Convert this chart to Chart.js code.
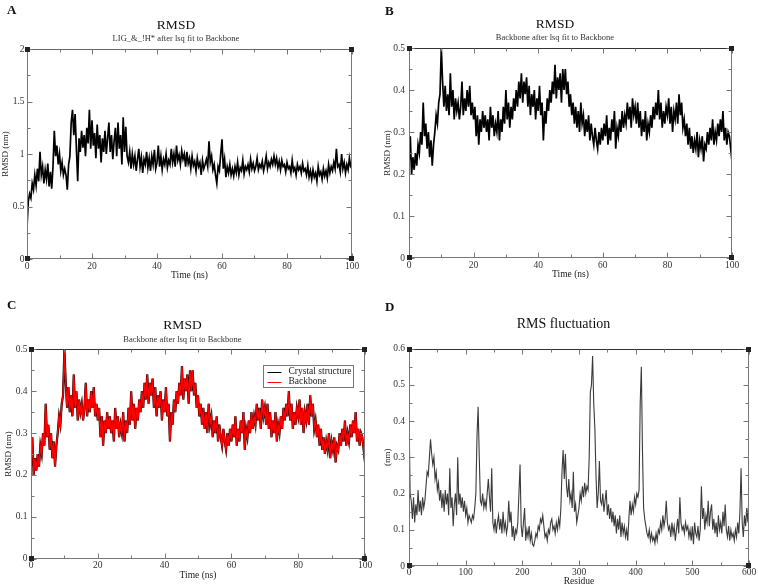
<!DOCTYPE html>
<html>
<head>
<meta charset="utf-8">
<script src="https://cdn.jsdelivr.net/npm/chart.js@4/dist/chart.umd.min.js"></script>
<style>
  html, body { margin: 0; padding: 0; background: #ffffff; }
  #wrap { position: relative; width: 758px; height: 587px; overflow: hidden; background: #fff; }
  canvas { position: absolute; }
  .lbl { position: absolute; font-family: 'Liberation Serif', 'Times New Roman', serif; font-weight: bold; font-size: 13px; color: #111; line-height: 1; }
</style>
</head>
<body>
<div id="wrap">
  <canvas id="cA" width="378" height="290" style="left:0;top:0"></canvas>
  <canvas id="cB" width="380" height="290" style="left:378px;top:0"></canvas>
  <canvas id="cC" width="378" height="297" style="left:0;top:290px"></canvas>
  <canvas id="cD" width="380" height="297" style="left:378px;top:290px"></canvas>
  <div class="lbl" style="left:7px;top:3px">A</div>
  <div class="lbl" style="left:385px;top:4px">B</div>
  <div class="lbl" style="left:7px;top:298px">C</div>
  <div class="lbl" style="left:385px;top:300px">D</div>
</div>
<script>
// ---------------- DATA ----------------
// Time axis step (ns) for RMSD traces, residue step for RMSF
const timeStepNs = 0.4;
const residueStep = 2;

// Panel A: ligand RMSD (nm), t = 0 .. 100 ns
const ligandRmsd = [
  0.30, 0.55, 0.62, 0.58, 0.72, 0.66, 0.80, 0.70, 0.86, 0.74,
  1.02, 0.80, 0.88, 0.72, 0.85, 0.76, 0.91, 0.69, 0.83, 0.67,
  0.88, 1.22, 0.98, 1.08, 0.90, 1.00, 0.84, 0.92, 0.80, 0.86,
  0.80, 0.66, 0.90, 0.98, 1.30, 1.42, 1.18, 1.38, 1.05, 0.74,
  1.15, 1.02, 1.22, 1.06, 1.18, 0.98, 1.25, 1.10, 1.42, 1.05,
  1.32, 1.08, 1.20, 0.96, 1.28, 1.05, 1.18, 0.92, 1.15, 1.02,
  1.22, 1.00, 1.15, 1.30, 1.02, 1.18, 0.95, 1.12, 1.25, 0.98,
  1.30, 1.05, 1.18, 0.90, 1.35, 1.02, 1.26, 0.98, 0.92, 1.02,
  0.86, 1.00, 0.90, 0.98, 0.84, 0.95, 1.05, 0.88, 0.97, 0.82,
  0.95, 0.90, 1.02, 0.87, 0.96, 0.84, 0.98, 0.90, 1.04, 0.86,
  0.92, 1.08, 0.88, 0.98, 0.85, 0.95, 0.90, 1.00, 0.87, 0.94,
  0.90, 1.05, 0.92, 1.00, 0.88, 1.08, 0.94, 0.99, 0.90, 1.03,
  0.95, 1.00, 0.88, 1.02, 0.91, 0.96, 0.86, 0.98, 0.89, 0.93,
  0.84, 0.96, 0.88, 0.92, 0.80, 0.94, 0.86, 0.90, 0.95, 0.88,
  1.12, 0.92, 0.98, 0.85, 0.90, 0.80, 0.72, 0.88, 0.84, 1.00,
  1.14, 0.86, 0.95, 0.78, 0.88, 0.82, 0.90, 0.80, 0.86, 0.79,
  0.88, 0.82, 0.92, 0.80, 0.87, 0.84, 0.94, 0.81, 0.88, 0.85,
  0.90, 0.83, 0.95, 0.86, 0.91, 0.84, 0.88, 0.96, 0.85, 0.90,
  0.87, 0.93, 0.84, 0.90, 0.98, 0.86, 0.92, 0.88, 0.95, 0.90,
  0.98, 0.90, 0.96, 0.87, 0.93, 0.85, 0.94, 0.88, 0.90, 0.83,
  0.92, 0.86, 0.88, 0.82, 0.94, 0.84, 0.87, 0.80, 0.90, 0.85,
  0.88, 0.82, 0.91, 0.84, 0.86, 0.80, 0.89, 0.78, 0.84, 0.76,
  0.85, 0.78, 0.82, 0.74, 0.88, 0.80, 0.83, 0.76, 0.86, 0.79,
  0.84, 0.77, 0.90, 0.82, 0.88, 0.84, 0.92, 0.86, 1.05, 0.88,
  0.90, 0.83, 1.00, 0.86, 0.92, 0.82, 0.90, 0.85, 0.96, 0.88,
  0.86
];

// Panels B and C: backbone RMSD (nm), t = 0 .. 100 ns
const backboneRmsd = [
  0.22, 0.29, 0.20, 0.24, 0.21, 0.25, 0.22, 0.27, 0.25, 0.30,
  0.27, 0.37, 0.29, 0.32, 0.26, 0.30, 0.24, 0.28, 0.22, 0.27,
  0.30, 0.34, 0.32, 0.37, 0.39, 0.50, 0.42, 0.36, 0.41, 0.35,
  0.39, 0.34, 0.44, 0.36, 0.40, 0.33, 0.38, 0.35, 0.37, 0.33,
  0.36, 0.42, 0.34, 0.38, 0.35, 0.40, 0.36, 0.41, 0.34, 0.37,
  0.33, 0.36, 0.29, 0.34, 0.27, 0.33, 0.30, 0.35, 0.31, 0.34,
  0.30, 0.33, 0.28, 0.36, 0.31, 0.34, 0.29, 0.32, 0.30, 0.35,
  0.28, 0.33, 0.30, 0.36, 0.32, 0.40, 0.33, 0.37, 0.31, 0.36,
  0.33, 0.38, 0.35, 0.40, 0.36, 0.42, 0.38, 0.44, 0.37, 0.42,
  0.39, 0.43, 0.36, 0.41, 0.34, 0.39, 0.36, 0.40, 0.33, 0.38,
  0.35, 0.41, 0.34, 0.37, 0.28, 0.35, 0.32, 0.38, 0.35, 0.40,
  0.37, 0.42, 0.39, 0.46, 0.38, 0.43, 0.40, 0.44, 0.37, 0.45,
  0.40, 0.45, 0.39, 0.42, 0.36, 0.39, 0.34, 0.37, 0.32, 0.36,
  0.31, 0.35, 0.30, 0.37, 0.32, 0.34, 0.29, 0.33, 0.30, 0.34,
  0.28, 0.32, 0.29, 0.27, 0.31, 0.28, 0.26, 0.30, 0.27, 0.31,
  0.28, 0.32, 0.29, 0.34, 0.27, 0.31, 0.28, 0.33, 0.30, 0.35,
  0.26, 0.31, 0.29, 0.33, 0.30, 0.35, 0.31, 0.34, 0.32, 0.37,
  0.33, 0.36, 0.31, 0.38, 0.34, 0.36, 0.32, 0.37, 0.31, 0.35,
  0.29, 0.33, 0.30, 0.35, 0.28, 0.32, 0.30, 0.34, 0.31, 0.36,
  0.33, 0.37, 0.34, 0.40, 0.33, 0.37, 0.31, 0.35, 0.32, 0.36,
  0.34, 0.38, 0.32, 0.36, 0.30, 0.35, 0.33, 0.37, 0.32, 0.39,
  0.34, 0.37, 0.31, 0.33, 0.29, 0.32, 0.27, 0.31, 0.26, 0.29,
  0.25, 0.28, 0.26, 0.30, 0.24, 0.28, 0.26, 0.29, 0.23, 0.27,
  0.26, 0.30, 0.27, 0.31, 0.28, 0.33, 0.27, 0.30, 0.28, 0.32,
  0.29, 0.33, 0.30, 0.35, 0.28, 0.31, 0.27, 0.30, 0.29, 0.26,
  0.23
];

// Panel C: crystal structure trace (lies under the backbone trace)
const crystalRmsd = backboneRmsd;

// Panel D: RMS fluctuation (nm), residues 0 .. 600
const rmsfNm = [
  0.43, 0.20, 0.18, 0.13, 0.19, 0.12, 0.17, 0.14, 0.21, 0.15,
  0.18, 0.14, 0.19, 0.16, 0.18, 0.22, 0.26, 0.25, 0.30, 0.35,
  0.31, 0.28, 0.30, 0.24, 0.26, 0.21, 0.23, 0.18, 0.21, 0.16,
  0.20, 0.15, 0.21, 0.17, 0.20, 0.14, 0.27, 0.16, 0.19, 0.11,
  0.17, 0.20, 0.14, 0.30, 0.17, 0.20, 0.16, 0.19, 0.15, 0.18,
  0.14, 0.16, 0.12, 0.14, 0.13, 0.12, 0.14, 0.13, 0.16, 0.20,
  0.36, 0.44, 0.30, 0.18, 0.17, 0.20, 0.16, 0.18, 0.16, 0.20,
  0.24, 0.19, 0.15, 0.27, 0.12, 0.10, 0.13, 0.09, 0.12, 0.14,
  0.10, 0.13, 0.09, 0.15, 0.10, 0.12, 0.09, 0.11, 0.18, 0.12,
  0.15, 0.08, 0.11, 0.07, 0.10, 0.09, 0.12, 0.20, 0.28, 0.11,
  0.08, 0.12, 0.16, 0.07, 0.10, 0.08, 0.11, 0.07, 0.09, 0.06,
  0.055, 0.07, 0.09, 0.08, 0.11, 0.10, 0.13, 0.12, 0.14, 0.11,
  0.08, 0.09, 0.07, 0.10, 0.09, 0.12, 0.13, 0.10, 0.11, 0.09,
  0.12, 0.10, 0.13, 0.11, 0.16, 0.26, 0.32, 0.24, 0.31, 0.22,
  0.19, 0.24, 0.18, 0.20, 0.16, 0.26, 0.15, 0.17, 0.12, 0.14,
  0.16, 0.20, 0.18, 0.22, 0.19, 0.23, 0.20, 0.22, 0.21, 0.30,
  0.48, 0.50, 0.58, 0.45, 0.38, 0.25, 0.16, 0.20, 0.29, 0.18,
  0.17, 0.20, 0.15, 0.18, 0.21, 0.14, 0.17, 0.13, 0.16, 0.12,
  0.15, 0.11, 0.14, 0.09, 0.13, 0.10, 0.14, 0.08, 0.12, 0.09,
  0.11, 0.08, 0.10, 0.07, 0.13, 0.18, 0.14, 0.17, 0.15, 0.19,
  0.17, 0.20, 0.19, 0.21, 0.45, 0.55, 0.32, 0.16, 0.13, 0.11,
  0.09, 0.08, 0.10, 0.07, 0.09, 0.07, 0.08, 0.063, 0.09, 0.07,
  0.10, 0.09, 0.12, 0.10, 0.14, 0.11, 0.13, 0.18, 0.12, 0.10,
  0.11, 0.08, 0.12, 0.09, 0.11, 0.07, 0.10, 0.13, 0.09, 0.19,
  0.12, 0.10, 0.11, 0.09, 0.12, 0.10, 0.11, 0.08, 0.10, 0.07,
  0.11, 0.06, 0.12, 0.09, 0.08, 0.11, 0.07, 0.10, 0.22, 0.13,
  0.16, 0.10, 0.14, 0.12, 0.18, 0.11, 0.15, 0.17, 0.10, 0.13,
  0.09, 0.12, 0.08, 0.14, 0.10, 0.12, 0.09, 0.15, 0.11, 0.17,
  0.10, 0.08, 0.11, 0.07, 0.10, 0.08, 0.09, 0.07, 0.10, 0.08,
  0.12, 0.09, 0.15, 0.27, 0.12, 0.08, 0.14, 0.11, 0.16, 0.12,
  0.20
];

// Tick values and labels
const timeTicks = [0, 20, 40, 60, 80, 100];
const timeTickLabels = ['0', '20', '40', '60', '80', '100'];
const ligandTicks = [0, 0.5, 1, 1.5, 2];
const ligandTickLabels = ['0', '0.5', '1', '1.5', '2'];
const backboneTicks = [0, 0.1, 0.2, 0.3, 0.4, 0.5];
const backboneTickLabels = ['0', '0.1', '0.2', '0.3', '0.4', '0.5'];
const residueTicks = [0, 100, 200, 300, 400, 500, 600];
const residueTickLabels = ['0', '100', '200', '300', '400', '500', '600'];
const rmsfTicks = [0, 0.1, 0.2, 0.3, 0.4, 0.5, 0.6];
const rmsfTickLabels = ['0', '0.1', '0.2', '0.3', '0.4', '0.5', '0.6'];

// Texts
const legendLabels = ['Crystal structure', 'Backbone'];

// ---------------- RENDERING ----------------
const FONT = "'Liberation Serif', 'Times New Roman', serif";

function toXY(values, step) {
  return values.map((v, i) => ({ x: +(i * step).toFixed(2), y: v }));
}

const graceFrame = {
  id: 'graceFrame',
  afterDatasetsDraw(chart, args, opts) {
    const { ctx, chartArea, scales } = chart;
    const L = Math.round(chartArea.left) + 0.5, R = Math.round(chartArea.right) - 0.5;
    const T = Math.round(chartArea.top) + 0.5, B = Math.round(chartArea.bottom) - 0.5;
    ctx.save();
    ctx.lineWidth = 1;
    ctx.strokeStyle = opts.frameColor || '#666';
    ctx.beginPath();
    ctx.moveTo(L, T); ctx.lineTo(L, B); ctx.lineTo(R, B); ctx.lineTo(R, T);
    ctx.stroke();
    ctx.strokeStyle = opts.topColor || '#666';
    ctx.beginPath(); ctx.moveTo(L, T); ctx.lineTo(R, T); ctx.stroke();

    ctx.strokeStyle = opts.tickColor || '#777';
    const major = 5, minor = 3;
    const xs = scales.x, ys = scales.y;
    const xv = xs.ticks.map(t => t.value), yv = ys.ticks.map(t => t.value);
    ctx.beginPath();
    xv.forEach((v, i) => {
      const p = Math.round(xs.getPixelForValue(v)) + 0.5;
      ctx.moveTo(p, B); ctx.lineTo(p, B - major);
      ctx.moveTo(p, T); ctx.lineTo(p, T + major);
      if (i < xv.length - 1) {
        const m = Math.round(xs.getPixelForValue((v + xv[i + 1]) / 2)) + 0.5;
        ctx.moveTo(m, B); ctx.lineTo(m, B - minor);
        ctx.moveTo(m, T); ctx.lineTo(m, T + minor);
      }
    });
    yv.forEach((v, i) => {
      const p = Math.round(ys.getPixelForValue(v)) + 0.5;
      ctx.moveTo(L, p); ctx.lineTo(L + major, p);
      ctx.moveTo(R, p); ctx.lineTo(R - major, p);
      if (i < yv.length - 1) {
        const m = Math.round(ys.getPixelForValue((v + yv[i + 1]) / 2)) + 0.5;
        ctx.moveTo(L, m); ctx.lineTo(L + minor, m);
        ctx.moveTo(R, m); ctx.lineTo(R - minor, m);
      }
    });
    ctx.stroke();

    ctx.fillStyle = '#222';
    [[L, T], [R, T], [L, B], [R, B]].forEach(([x, y]) => ctx.fillRect(x - 2.5, y - 2.5, 5, 5));
    ctx.restore();
  }
};

const boxLegend = {
  id: 'boxLegend',
  afterDraw(chart, args, opts) {
    if (!opts || !opts.show) return;
    const { ctx, chartArea } = chart;
    const x0 = Math.round(chartArea.right - opts.fromRight) + 0.5;
    const y0 = Math.round(chartArea.top + opts.fromTop) + 0.5;
    ctx.save();
    ctx.fillStyle = '#fff';
    ctx.fillRect(x0, y0, opts.width, opts.height);
    ctx.strokeStyle = '#777';
    ctx.lineWidth = 1;
    ctx.strokeRect(x0, y0, opts.width, opts.height);
    ctx.font = '9.5px ' + FONT;
    ctx.textBaseline = 'middle';
    chart.data.datasets.forEach((ds, i) => {
      const cy = y0 + 6 + i * 10;
      ctx.strokeStyle = ds.borderColor;
      ctx.lineWidth = 1;
      ctx.beginPath(); ctx.moveTo(x0 + 4, Math.round(cy) + 0.5); ctx.lineTo(x0 + 18, Math.round(cy) + 0.5); ctx.stroke();
      ctx.fillStyle = '#222';
      ctx.fillText(ds.label, x0 + 25, cy);
    });
    ctx.restore();
  }
};

function makePanel(id, p) {
  const ctx = document.getElementById(id);
  return new Chart(ctx, {
    type: 'line',
    data: { datasets: p.datasets },
    plugins: [graceFrame, boxLegend],
    options: {
      responsive: false,
      animation: false,
      devicePixelRatio: 1,
      layout: { padding: { left: 0, right: p.padRight, top: 0, bottom: 0 } },
      elements: { point: { radius: 0 }, line: { tension: 0, borderJoinStyle: 'miter' } },
      plugins: {
        legend: { display: false },
        tooltip: { enabled: false },
        title: {
          display: true, text: p.title, color: '#111',
          font: { family: FONT, size: p.titleSize, weight: 'normal', lineHeight: 1.2 },
          padding: { top: p.titlePadTop, bottom: p.titlePadBottom }
        },
        subtitle: {
          display: !!p.subtitle, text: p.subtitle || '', color: '#333',
          font: { family: FONT, size: 8.5, weight: 'normal', lineHeight: 1.2 },
          padding: { top: p.subPadTop || 0, bottom: p.subPadBottom || 0 }
        },
        graceFrame: { topColor: p.topColor, frameColor: '#777' },
        boxLegend: p.legend || { show: false }
      },
      scales: {
        x: {
          type: 'linear', min: p.xTicks[0], max: p.xTicks[p.xTicks.length - 1],
          grid: { display: false, drawTicks: false }, border: { display: false },
          afterBuildTicks: s => { s.ticks = p.xTicks.map(v => ({ value: v })); },
          afterFit: s => { s.height = p.xHeight; },
          ticks: {
            autoSkip: false, maxRotation: 0, padding: p.xTickPad, color: '#333',
            font: { family: FONT, size: 9.5 },
            callback: (v, i) => p.xLabels[i]
          },
          title: {
            display: true, text: p.xTitle, color: '#222',
            font: { family: FONT, size: 9.5 },
            padding: { top: 0, bottom: p.xTitlePad }
          }
        },
        y: {
          type: 'linear', min: p.yTicks[0], max: p.yTicks[p.yTicks.length - 1],
          grid: { display: false, drawTicks: false }, border: { display: false },
          afterBuildTicks: s => { s.ticks = p.yTicks.map(v => ({ value: v })); },
          afterFit: s => { s.width = p.yWidth; },
          ticks: {
            autoSkip: false, padding: p.yTickPad, color: '#333',
            font: { family: FONT, size: 9.5 },
            callback: (v, i) => p.yLabels[i]
          },
          title: {
            display: true, text: p.yTitle, color: '#222',
            font: { family: FONT, size: 9 },
            padding: { top: p.yTitlePad, bottom: 0 }
          }
        }
      }
    }
  });
}

makePanel('cA', {
  datasets: [{ label: 'RMSD', data: toXY(ligandRmsd, timeStepNs), borderColor: '#000', borderWidth: 1.7 }],
  title: 'RMSD', titleSize: 13.5, titlePadTop: 16.9, titlePadBottom: 0,
  subtitle: 'LIG_&_!H* after lsq fit to Backbone', subPadTop: 0.8, subPadBottom: 4.9,
  padRight: 26, yWidth: 27, xHeight: 31,
  xTicks: timeTicks, xLabels: timeTickLabels, yTicks: ligandTicks, yLabels: ligandTickLabels,
  xTickPad: 2, xTitle: 'Time (ns)', xTitlePad: 8.6,
  yTickPad: 2.5, yTitle: 'RMSD (nm)', yTitlePad: 0.5, topColor: '#666'
});

makePanel('cB', {
  datasets: [{ label: 'RMSD', data: toXY(backboneRmsd, timeStepNs), borderColor: '#000', borderWidth: 1.7 }],
  title: 'RMSD', titleSize: 13.5, titlePadTop: 16.4, titlePadBottom: 0,
  subtitle: 'Backbone after lsq fit to Backbone', subPadTop: 0, subPadBottom: 5.2,
  padRight: 26, yWidth: 31, xHeight: 32,
  xTicks: timeTicks, xLabels: timeTickLabels, yTicks: backboneTicks, yLabels: backboneTickLabels,
  xTickPad: 1.5, xTitle: 'Time (ns)', xTitlePad: 10,
  yTickPad: 4, yTitle: 'RMSD (nm)', yTitlePad: 4.3, topColor: '#333'
});

makePanel('cC', {
  datasets: [
    { label: legendLabels[0], data: toXY(crystalRmsd, timeStepNs), borderColor: '#000', borderWidth: 2.2, order: 1 },
    { label: legendLabels[1], data: toXY(backboneRmsd, timeStepNs), borderColor: '#ff0000', borderWidth: 1.5, order: 0 }
  ],
  title: 'RMSD', titleSize: 13.5, titlePadTop: 26.9, titlePadBottom: 0,
  subtitle: 'Backbone after lsq fit to Backbone', subPadTop: 1.1, subPadBottom: 4.9,
  padRight: 13, yWidth: 31, xHeight: 28.3,
  xTicks: timeTicks, xLabels: timeTickLabels, yTicks: backboneTicks, yLabels: backboneTickLabels,
  xTickPad: 1.5, xTitle: 'Time (ns)', xTitlePad: 6.3,
  yTickPad: 3.5, yTitle: 'RMSD (nm)', yTitlePad: 3.3, topColor: '#333',
  legend: { show: true, fromRight: 102, fromTop: 15.7, width: 90, height: 22 }
});

makePanel('cD', {
  datasets: [{ label: 'RMSF', data: toXY(rmsfNm, residueStep), borderColor: '#3a3a3a', borderWidth: 1.1 }],
  title: 'RMS fluctuation', titleSize: 14, titlePadTop: 25.9, titlePadBottom: 16,
  subtitle: '',
  padRight: 9, yWidth: 31, xHeight: 21,
  xTicks: residueTicks, xLabels: residueTickLabels, yTicks: rmsfTicks, yLabels: rmsfTickLabels,
  xTickPad: 1, xTitle: 'Residue', xTitlePad: 0.3,
  yTickPad: 4, yTitle: '(nm)', yTitlePad: 4.3, topColor: '#333'
});
</script>
</body>
</html>
